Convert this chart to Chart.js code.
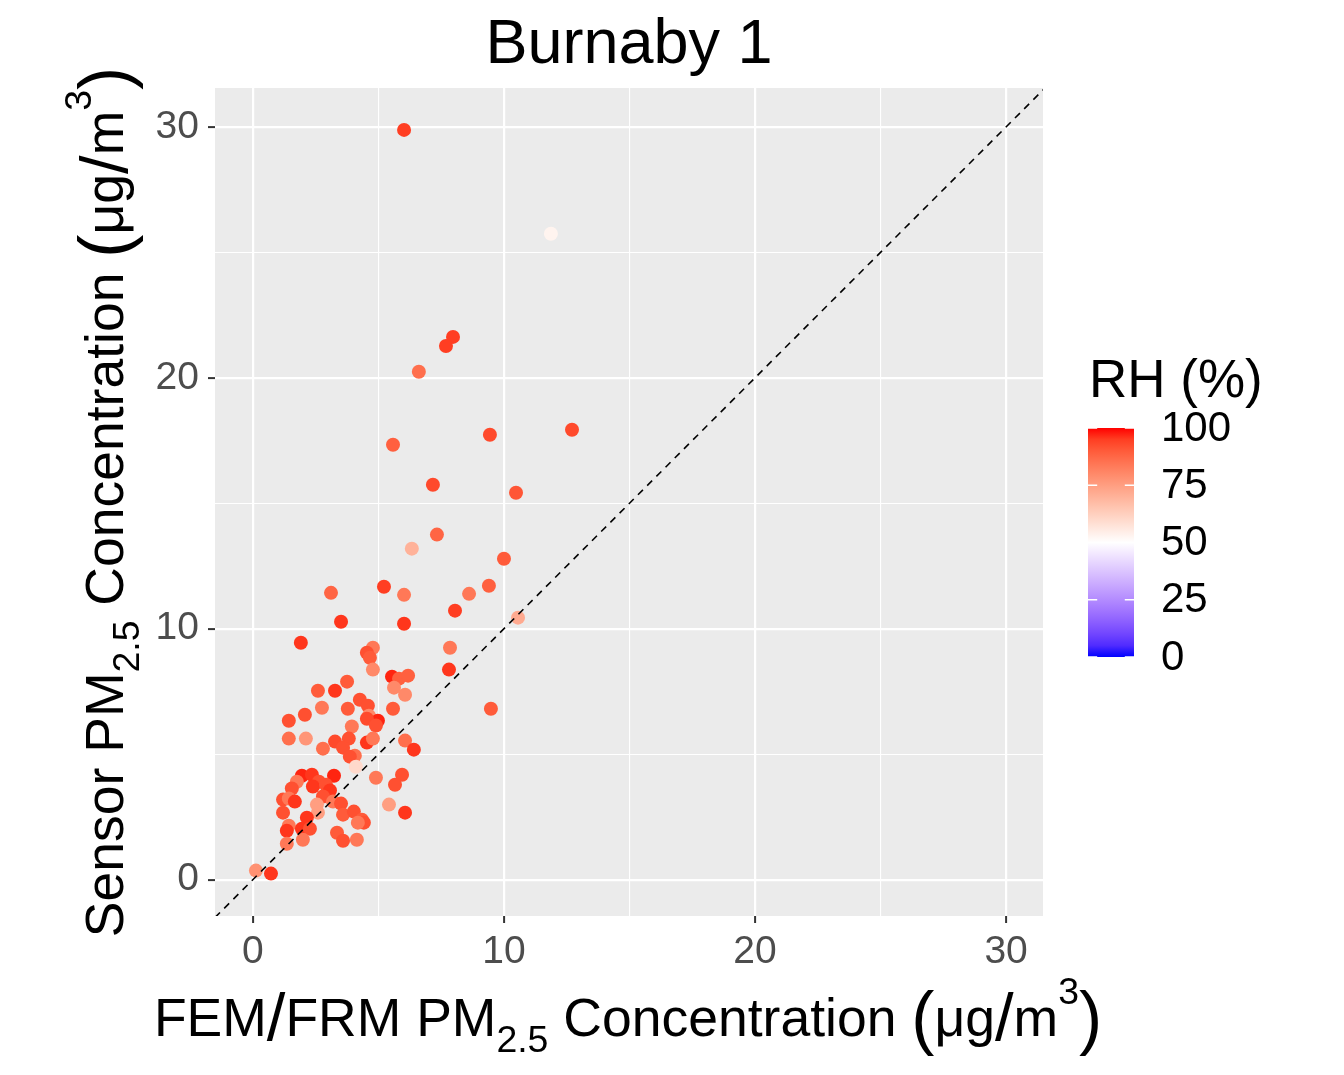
<!DOCTYPE html>
<html>
<head>
<meta charset="utf-8">
<script src="https://cdn.jsdelivr.net/npm/chart.js@4"></script>
<style>
  html, body { margin: 0; background: #fff; }
  #wrap { width: 1344px; height: 1075px; }
</style>
</head>
<body>
<div id="wrap"><canvas id="c"></canvas></div>
<script>
// reference (FEM/FRM) PM2.5, ug/m3
const fem = [
  6.02, 11.87, 7.97, 7.69, 6.61, 12.71, 9.44, 5.58, 7.17, 10.48,
  7.33, 6.33, 3.11, 5.22, 6.02, 9.40, 8.61, 10.0, 8.05, 10.56,
  3.51, 6.02, 1.91, 7.85, 4.78, 4.54, 4.66, 4.78, 7.81, 5.54,
  5.82, 6.18, 5.62, 6.06, 3.75, 3.27, 2.59, 4.26, 4.58, 3.78,
  2.75, 2.07, 1.43, 5.58, 9.48, 4.62, 4.98, 4.54, 4.90, 3.94,
  1.43, 2.11, 2.79, 3.27, 3.82, 3.59, 4.54, 4.78, 6.06, 6.41,
  4.06, 3.86, 4.10, 1.95, 2.35, 3.23, 1.75, 2.63, 2.39, 2.91,
  3.07, 1.55, 1.20, 1.43, 1.67, 2.79, 3.19, 2.55, 3.51, 1.20,
  2.59, 2.15, 3.59, 4.02, 4.34, 4.42, 4.18, 1.43, 1.35, 1.95,
  2.27, 3.35, 3.59, 4.14, 1.99, 1.35, 0.12, 0.72, 4.90, 5.94,
  5.66, 5.42, 6.06
];
// sensor PM2.5, ug/m3
const sensor = [
  29.88, 25.74, 21.63, 21.27, 20.24, 17.93, 17.73, 17.33, 15.74, 15.42,
  13.75, 13.19, 11.43, 11.67, 11.35, 11.71, 11.39, 12.79, 10.72, 10.44,
  10.28, 10.20, 9.44, 9.24, 9.24, 9.04, 8.84, 8.37, 8.37, 8.09,
  8.01, 8.13, 7.65, 7.37, 7.89, 7.53, 7.53, 7.17, 6.93, 6.81,
  6.85, 6.57, 6.33, 6.81, 6.81, 6.53, 6.33, 6.41, 6.14, 6.10,
  5.62, 5.62, 5.22, 5.50, 5.62, 5.26, 5.46, 5.62, 5.54, 5.18,
  4.94, 4.90, 4.50, 4.14, 4.18, 4.14, 3.90, 3.90, 3.71, 3.78,
  3.55, 3.63, 3.19, 3.23, 3.11, 3.31, 3.11, 2.99, 3.03, 2.67,
  2.67, 2.47, 2.59, 2.71, 2.39, 2.27, 2.27, 2.15, 1.95, 2.03,
  2.03, 1.87, 1.55, 1.59, 1.59, 1.43, 0.36, 0.24, 4.06, 4.18,
  3.78, 2.99, 2.67
];
// relative humidity (%)
const rh = [
  95, 53, 95, 95, 86, 93, 93, 89, 93, 91,
  88, 70, 88, 95, 84, 89, 84, 90, 95, 72,
  96, 96, 96, 84, 84, 92, 90, 80, 96, 98,
  89, 89, 80, 80, 90, 96, 90, 92, 92, 90,
  84, 92, 92, 90, 90, 80, 98, 93, 92, 84,
  86, 77, 86, 93, 92, 92, 96, 84, 86, 96,
  86, 92, 60, 98, 96, 98, 84, 92, 96, 92,
  96, 92, 92, 84, 96, 92, 84, 75, 92, 92,
  75, 96, 90, 92, 90, 92, 84, 84, 96, 96,
  92, 90, 92, 84, 84, 84, 78, 96, 84, 92,
  92, 75, 96
];

const majorTicks = [0, 10, 20, 30];
const minorTicks = [5, 15, 25];
const rhBreaks = [0, 25, 50, 75, 100];
const xMin = -1.51, xMax = 31.47;
const yMin = -1.45, yMax = 31.55;

const FONT = '"Liberation Sans", Arial, sans-serif';
const font = (px) => px + "px " + FONT;

// colour ramp blue-white-red, interpolated in Lab like ggplot's gradient2
function toLin(c) { c /= 255; return c <= 0.04045 ? c / 12.92 : Math.pow((c + 0.055) / 1.055, 2.4); }
function fromLin(c) {
  const v = c <= 0.0031308 ? 12.92 * c : 1.055 * Math.pow(c, 1 / 2.4) - 0.055;
  return Math.round(Math.max(0, Math.min(1, v)) * 255);
}
const WX = 0.95047, WZ = 1.08883;
function rgb2lab(rgb) {
  const r = toLin(rgb[0]), g = toLin(rgb[1]), b = toLin(rgb[2]);
  const x = (0.4124564 * r + 0.3575761 * g + 0.1804375 * b) / WX;
  const y = 0.2126729 * r + 0.7151522 * g + 0.0721750 * b;
  const z = (0.0193339 * r + 0.1191920 * g + 0.9503041 * b) / WZ;
  const f = t => t > 0.008856 ? Math.cbrt(t) : 7.787 * t + 16 / 116;
  return [116 * f(y) - 16, 500 * (f(x) - f(y)), 200 * (f(y) - f(z))];
}
function lab2rgb(lab) {
  const fy = (lab[0] + 16) / 116, fx = fy + lab[1] / 500, fz = fy - lab[2] / 200;
  const fi = t => t * t * t > 0.008856 ? t * t * t : (t - 16 / 116) / 7.787;
  const x = fi(fx) * WX, y = fi(fy), z = fi(fz) * WZ;
  return [
    fromLin(3.2404542 * x - 1.5371385 * y - 0.4985314 * z),
    fromLin(-0.9692660 * x + 1.8760108 * y + 0.0415560 * z),
    fromLin(0.0556434 * x - 0.2040259 * y + 1.0572252 * z)
  ];
}
const LAB_LOW = rgb2lab([0, 0, 255]), LAB_MID = rgb2lab([255, 255, 255]), LAB_HIGH = rgb2lab([255, 0, 0]);
function rhColor(v) {
  const end = v >= 50 ? LAB_HIGH : LAB_LOW;
  const t = Math.abs(v - 50) / 50;
  const c = lab2rgb(LAB_MID.map((m, i) => m + (end[i] - m) * t));
  return "rgb(" + c.join(",") + ")";
}

// text with sub/superscripts, centred on (cx, cy) baseline
function richText(ctx, parts, base, cx, cy, angle) {
  ctx.save();
  ctx.translate(cx, cy);
  ctx.rotate(angle);
  ctx.textAlign = "left";
  ctx.textBaseline = "alphabetic";
  ctx.fillStyle = "#000";
  let total = 0;
  const widths = parts.map(p => {
    ctx.font = font(base * (p.s || 1));
    const w = ctx.measureText(p.t).width;
    total += w;
    return w;
  });
  let x = -total / 2;
  parts.forEach((p, i) => {
    ctx.font = font(base * (p.s || 1));
    ctx.fillText(p.t, x, (p.dy || 0) * base);
    x += widths[i];
  });
  ctx.restore();
}

const unitParts = [
  { t: " " },
  { t: "(", s: 1.3, dy: 0.09 },
  { t: "μg" },
  { t: "/", s: 1.25, dy: 0.08 },
  { t: "m" },
  { t: "3", s: 0.7, dy: -0.6 },
  { t: ")", s: 1.3, dy: 0.09 }
];
const xTitleParts = [
  { t: "FEM" }, { t: "/", s: 1.25, dy: 0.08 }, { t: "FRM PM" },
  { t: "2.5", s: 0.7, dy: 0.3 }, { t: " Concentration" }
].concat(unitParts);
const yTitleParts = [
  { t: "Sensor PM" }, { t: "2.5", s: 0.7, dy: 0.3 }, { t: " Concentration" }
].concat(unitParts);

const decorations = {
  id: "decorations",
  beforeDraw(chart) {
    const { ctx, chartArea: a } = chart;
    ctx.save();
    ctx.fillStyle = "#EBEBEB";
    ctx.fillRect(a.left, a.top, a.right - a.left, a.bottom - a.top);
    ctx.restore();
  },
  afterDraw(chart) {
    const { ctx, chartArea: a } = chart;
    const midX = (a.left + a.right) / 2, midY = (a.top + a.bottom) / 2;

    ctx.save();
    ctx.fillStyle = "#000";
    ctx.font = font(63);
    ctx.textAlign = "center";
    ctx.textBaseline = "alphabetic";
    ctx.fillText("Burnaby 1", midX, 63);
    ctx.restore();

    richText(ctx, xTitleParts, 53.5, midX - 1, 1036, 0);
    richText(ctx, yTitleParts, 53.5, 123, midY, -Math.PI / 2);

    // colour bar legend
    const barL = 1088, barR = 1134, barT = 428, barB = 657;
    const yOf = v => barB - (v / 100) * (barB - barT);
    const grad = ctx.createLinearGradient(0, barT, 0, barB);
    for (let v = 100; v >= 0; v -= 5) grad.addColorStop((100 - v) / 100, rhColor(v));
    ctx.save();
    ctx.fillStyle = grad;
    ctx.fillRect(barL, barT, barR - barL, barB - barT);
    ctx.strokeStyle = "#FFFFFF";
    ctx.lineWidth = 1.5;
    const tl = (barR - barL) / 5;
    rhBreaks.forEach(v => {
      const y = yOf(v);
      ctx.beginPath();
      ctx.moveTo(barL, y); ctx.lineTo(barL + tl, y);
      ctx.moveTo(barR - tl, y); ctx.lineTo(barR, y);
      ctx.stroke();
    });
    ctx.fillStyle = "#000";
    ctx.font = font(53);
    ctx.textAlign = "left";
    ctx.textBaseline = "alphabetic";
    ctx.fillText("RH (%)", 1089, 397);
    ctx.font = font(42);
    ctx.textBaseline = "middle";
    rhBreaks.forEach(v => ctx.fillText(String(v), 1161, yOf(v) + 1));
    ctx.restore();
  }
};

const isMajor = v => majorTicks.includes(v);
const tickList = majorTicks.concat(minorTicks).sort((p, q) => p - q);

function axisOptions(isX) {
  return {
    type: "linear",
    min: isX ? xMin : yMin,
    max: isX ? xMax : yMax,
    afterBuildTicks: s => { s.ticks = tickList.map(v => ({ value: v })); },
    afterFit: s => { if (isX) s.height = 159; else s.width = 215; },
    border: { display: false },
    grid: {
      color: "#FFFFFF",
      lineWidth: c => isMajor(c.tick && c.tick.value) ? 2.2 : 1.1,
      drawTicks: true,
      tickLength: 7,
      tickWidth: 2,
      tickColor: c => isMajor(c.tick && c.tick.value) ? "#333333" : "rgba(0,0,0,0)"
    },
    ticks: {
      autoSkip: false,
      maxRotation: 0,
      padding: isX ? 6 : 9,
      color: "#4D4D4D",
      font: { family: FONT, size: 39 },
      callback: v => isMajor(v) ? String(v) : ""
    }
  };
}

const lineLo = Math.min(xMin, yMin), lineHi = Math.max(xMax, yMax);

new Chart(document.getElementById("c"), {
  data: {
    datasets: [
      {
        type: "line",
        order: 0,
        data: [{ x: lineLo, y: lineLo }, { x: lineHi, y: lineHi }],
        borderColor: "#000000",
        borderWidth: 1.6,
        borderDash: [7, 6],
        pointRadius: 0,
        fill: false
      },
      {
        type: "scatter",
        order: 1,
        data: fem.map((x, i) => ({ x: x, y: sensor[i] })),
        backgroundColor: rh.map(rhColor),
        borderWidth: 0,
        pointRadius: 7,
        pointHoverRadius: 7
      }
    ]
  },
  options: {
    responsive: true,
    maintainAspectRatio: false,
    animation: false,
    layout: { padding: { left: 0, top: 88, right: 301, bottom: 0 } },
    plugins: { legend: { display: false }, tooltip: { enabled: false }, title: { display: false } },
    scales: { x: axisOptions(true), y: axisOptions(false) }
  },
  plugins: [decorations]
});
</script>
</body>
</html>
